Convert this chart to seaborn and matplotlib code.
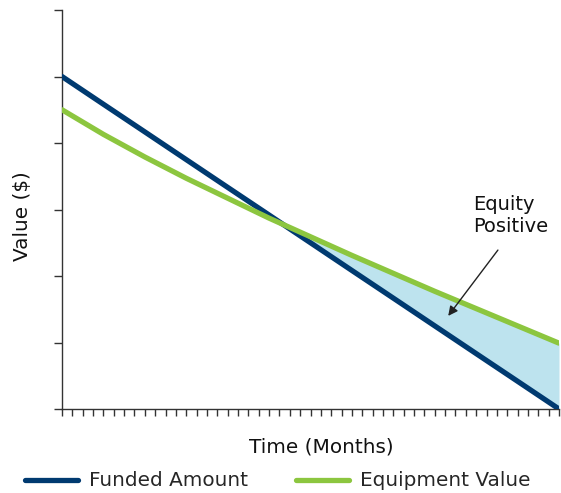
import numpy as np
import pandas as pd
import matplotlib
matplotlib.use("Agg")
import matplotlib.pyplot as plt
import seaborn as sns
from matplotlib.lines import Line2D

months = [0, 4, 8, 12, 16, 20, 24, 28, 32, 36, 40, 44, 48]
funded = [5.0, 4.583, 4.167, 3.75, 3.333, 2.917, 2.5, 2.083, 1.667, 1.25, 0.833, 0.417, 0.0]
equipment = [4.50, 4.13, 3.79, 3.47, 3.17, 2.87, 2.59, 2.31, 2.04, 1.77, 1.51, 1.25, 0.99]
series_names = ["Funded Amount", "Equipment Value"]
colors = ["#003a70", "#8cc63f"]

sns.set_style("white")
plt.rcParams['font.family'] = ['DejaVu Sans']

df = pd.DataFrame({
    "Month": months * 2,
    "Value": funded + equipment,
    "Series": [series_names[0]] * len(months) + [series_names[1]] * len(months),
})

fig = plt.figure(figsize=(5.61, 4.93), dpi=100)
ax = fig.add_axes([62/561, 1 - 409/493, (559-62)/561, (409-10)/493])

m = np.array(months, dtype=float)
f = np.array(funded)
e = np.array(equipment)
ax.fill_between(m, f, e, where=e >= f, interpolate=True, color="#bde3ee", lw=0, zorder=1)

sns.lineplot(data=df, x="Month", y="Value", hue="Series", palette=colors,
             linewidth=3.8, ax=ax, legend=False, zorder=3)

ax.set_xlim(0, 48)
ax.set_ylim(0, 6)
ax.set_xticks(np.arange(0, 49, 1))
ax.set_yticks(np.arange(0, 7, 1))
ax.set_xticklabels([])
ax.set_yticklabels([])
ax.tick_params(axis='x', bottom=True, direction='out', length=5, width=1, color="#333333")
ax.tick_params(axis='y', left=True, direction='out', length=6, width=1, color="#333333")
for s in ["top", "right"]:
    ax.spines[s].set_visible(False)
for s in ["left", "bottom"]:
    ax.spines[s].set_color("#333333")
    ax.spines[s].set_linewidth(1)

fs = 14.4
ax.set_xlabel("Time (Months)", fontsize=fs, color="#111111")
ax.xaxis.set_label_coords((321.5 - 62) / 497, -(447 - 409) / 399)
ax.xaxis.label.set_va("center")
ax.set_ylabel("Value ($)", fontsize=fs, color="#111111")
ax.yaxis.set_label_coords((22.5 - 62) / 497, (409 - 216) / 399)
ax.yaxis.label.set_va("center")

ax.text(43.3, 2.91, "Equity\nPositive", ha="center", va="center",
        multialignment="left", fontsize=14, color="#111111")
ax.annotate("", xy=(37.3, 1.40), xytext=(42.1, 2.39),
            arrowprops=dict(arrowstyle="-|>", color="#222222", lw=1,
                            shrinkA=0, shrinkB=0, mutation_scale=14))

handles = [Line2D([0], [0], color=c, lw=3.8) for c in colors]
fig.legend(handles, series_names, loc="center", bbox_to_anchor=(277.5 / 561, 1 - 481 / 493),
           ncol=2, frameon=False, fontsize=fs, handlelength=2.64, columnspacing=2.4,
           handletextpad=0.55, borderpad=0)

fig.savefig("out.png", dpi=100)
